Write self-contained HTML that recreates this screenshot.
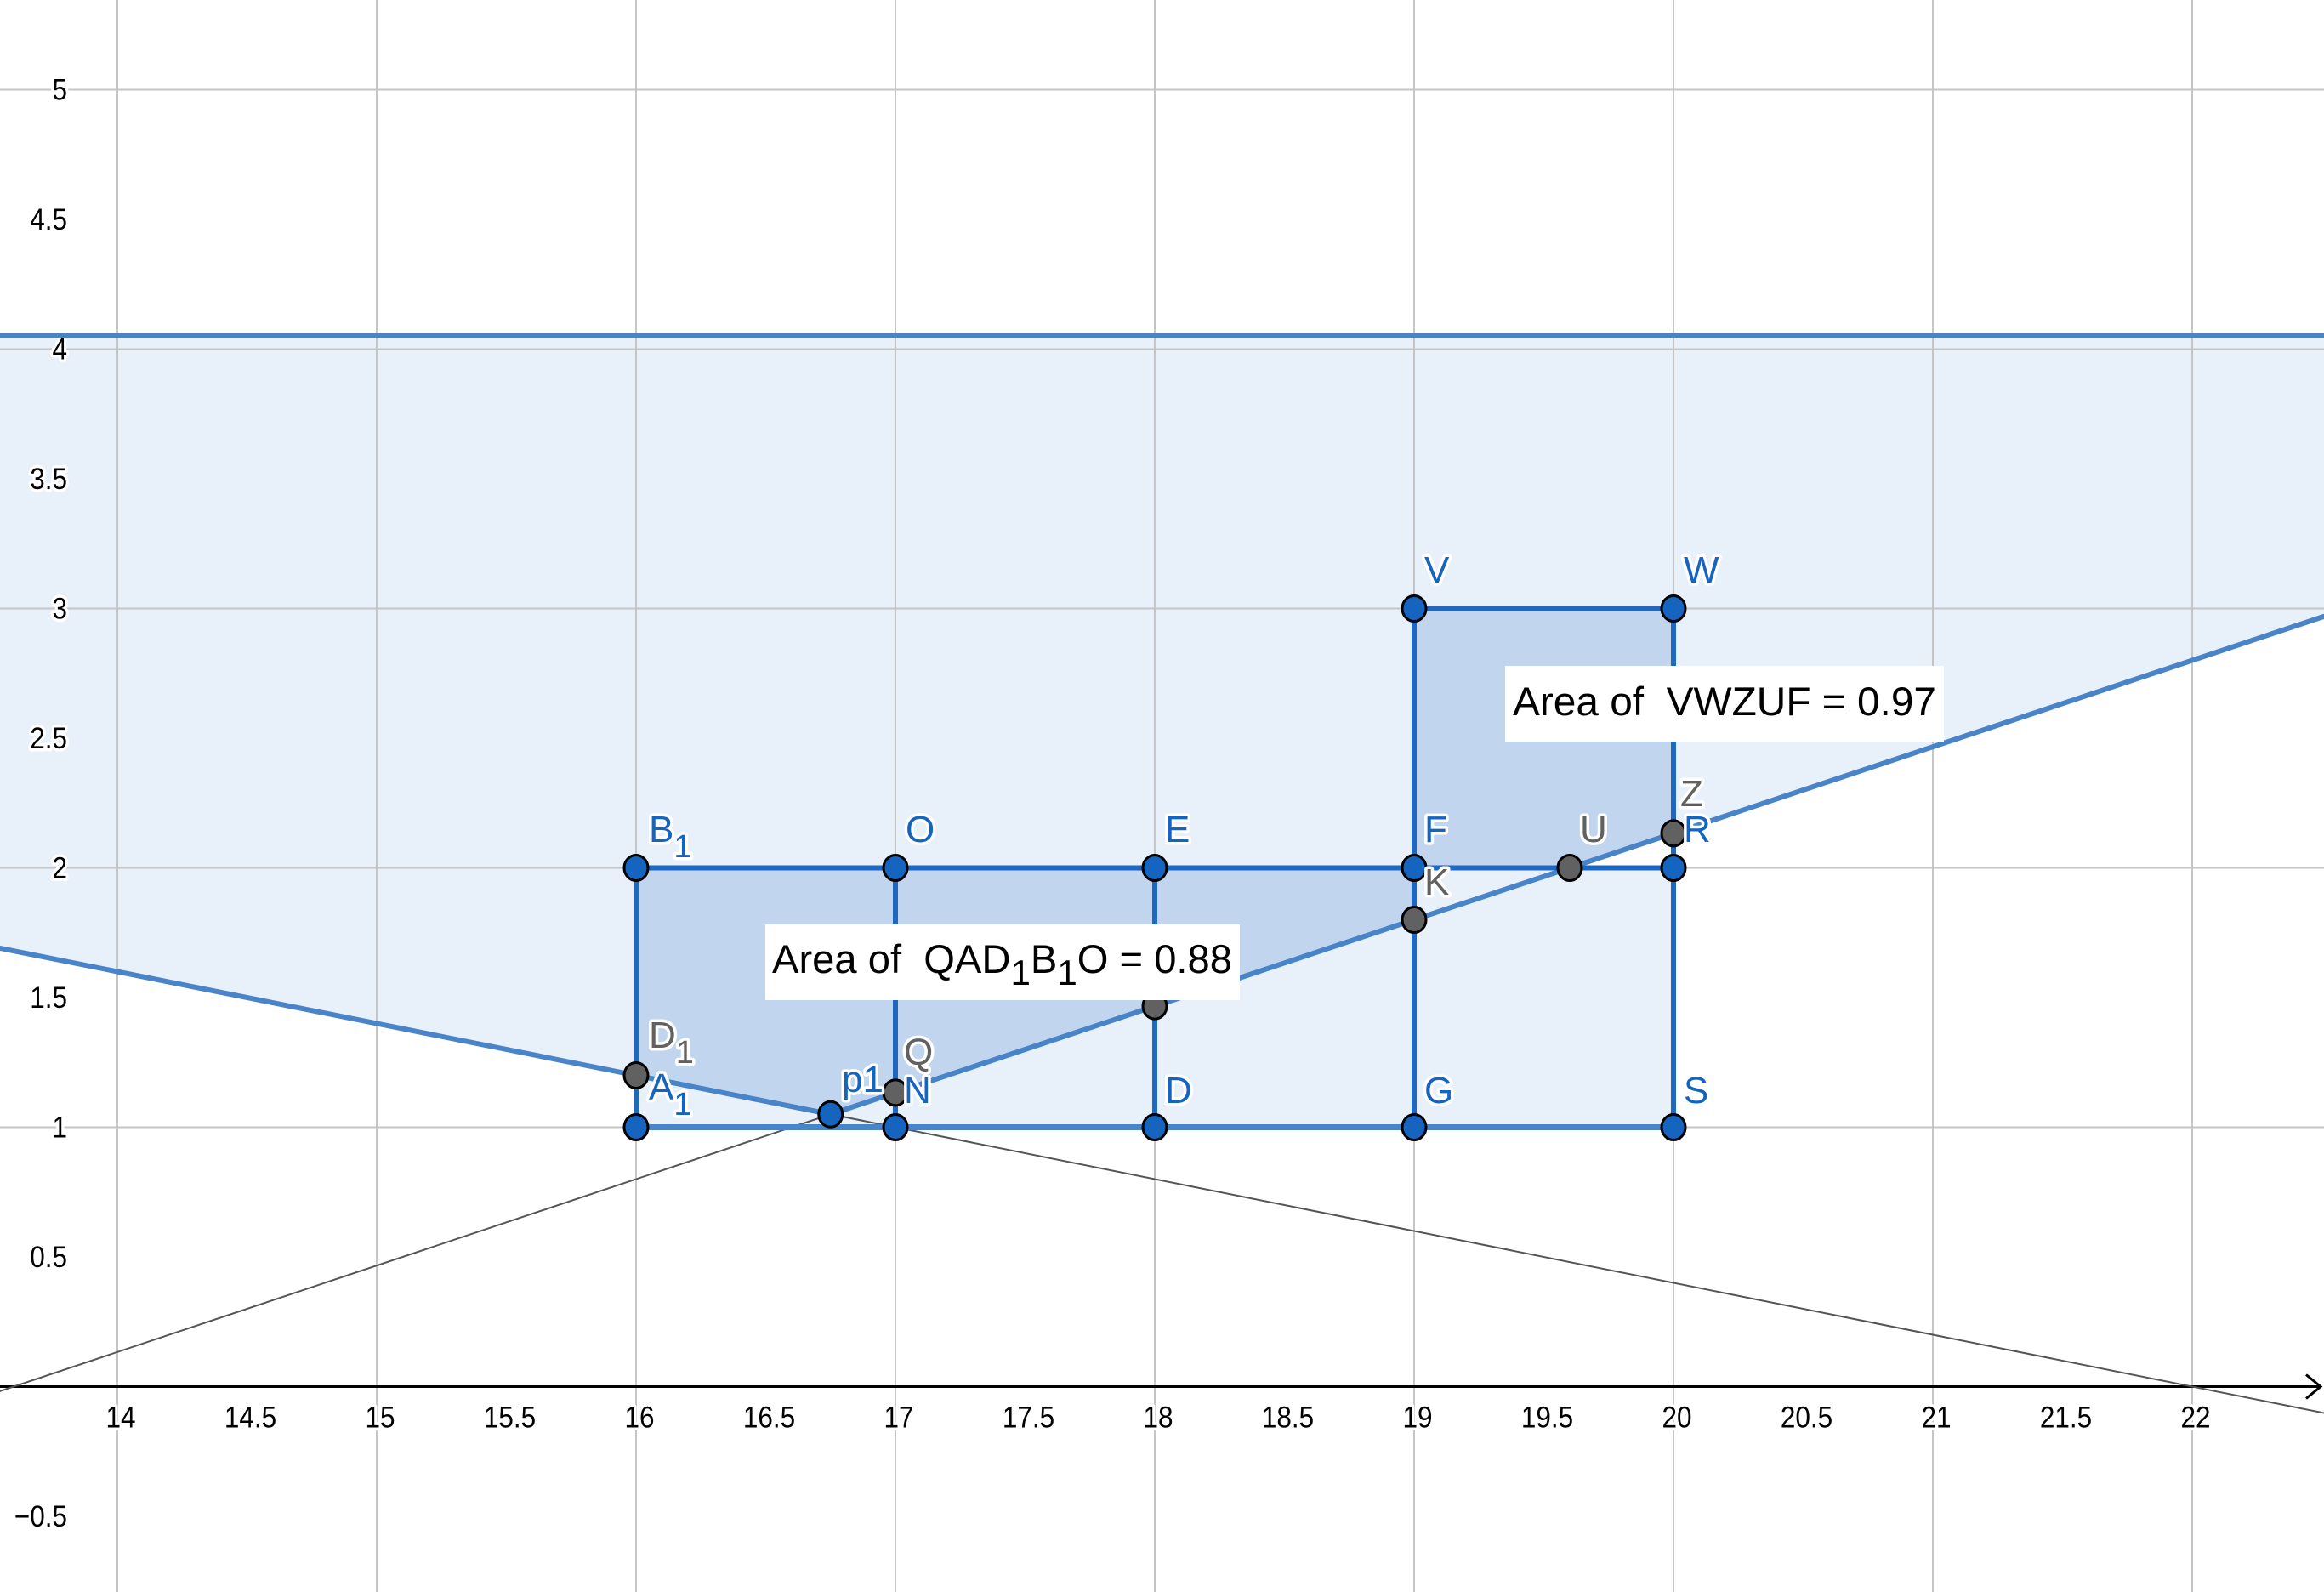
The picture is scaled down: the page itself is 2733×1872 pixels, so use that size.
<!DOCTYPE html>
<html><head><meta charset="utf-8">
<style>
html,body{margin:0;padding:0;background:#fff;}
svg{display:block;font-family:"Liberation Sans",sans-serif;}
.halo{paint-order:stroke;stroke:#fff;stroke-width:7px;stroke-linejoin:round;}
</style></head>
<body>
<svg id="chart" width="2733" height="1872" viewBox="0 0 2733 1872" xmlns="http://www.w3.org/2000/svg">
<g id="fills"></g>
<g id="grid"></g>
<g id="axes"></g>
<g id="lines"></g>
<g id="segs"></g>
<g id="pts"></g>
<g id="labels"></g>
<g id="boxes"></g>
</svg>
<script>
const xTicks = [14,14.5,15,15.5,16,16.5,17,17.5,18,18.5,19,19.5,20,20.5,21,21.5,22];
const yTicks = [-0.5,0.5,1,1.5,2,2.5,3,3.5,4,4.5,5];
const gridX = [14,15,16,17,18,19,20,21,22];
const gridY = [1,2,3,4,5];
const ceilingY = 4.054;
const line1 = [[16,1.2],[22,0]];        // descending line
const line2 = [[13.6,0],[19.6,2]];      // ascending line
const p1 = [16.75,1.05];
const bluePts = [["A","1",16,1],["B","1",16,2],["O","",17,2],["E","",18,2],["F","",19,2],["V","",19,3],["W","",20,3],["R","",20,2],["S","",20,1],["G","",19,1],["D","",18,1],["N","",17,1],["p1","",16.75,1.05]];
const grayPts = [["D","1",16,1.2],["Q","",17,1.1333],["K","",19,1.8],["U","",19.6,2],["Z","",20,2.1333],["","",18,1.4667]];
const xMin = 13.545, xMax = 22.51;

const X0 = 748, Y0 = 1630.5, U = 305;
const sx = x => X0 + (x-16)*U;
const sy = y => Y0 - y*U;
const NS = "http://www.w3.org/2000/svg";
function mk(tag, attrs, parent){const e=document.createElementNS(NS,tag);for(const k in attrs)e.setAttribute(k,attrs[k]);parent.appendChild(e);return e;}
const lineY = (L,x)=>L[0][1]+(L[1][1]-L[0][1])*(x-L[0][0])/(L[1][0]-L[0][0]);
const lowerY = x => Math.max(lineY(line1,x), lineY(line2,x));

// fills
const fills = document.getElementById('fills');
let pts = [[xMin,ceilingY],[xMax,ceilingY],[xMax,lowerY(xMax)],[p1[0],p1[1]],[xMin,lowerY(xMin)]];
let r = mk('polygon',{points:pts.map(p=>sx(p[0])+','+sy(p[1])).join(' '),fill:'#e8f0f9'},fills);


r = mk('rect',{x:sx(16),y:sy(2),width:sx(20)-sx(16),height:sy(1)-sy(2),fill:'#e8f0f9'},fills);


let dark1 = [[16,lineY(line1,16)],[16,2],[19,2],[19,lineY(line2,19)],[p1[0],p1[1]]];
r = mk('polygon',{points:dark1.map(p=>sx(p[0])+','+sy(p[1])).join(' '),fill:'#c1d6ee'},fills);


let dark2 = [[19,3],[20,3],[20,lineY(line2,20)],[19.6,2],[19,2]];
r = mk('polygon',{points:dark2.map(p=>sx(p[0])+','+sy(p[1])).join(' '),fill:'#c1d6ee'},fills);



// grid
const grid = document.getElementById('grid');
gridX.forEach(v=>{const l=mk('line',{x1:sx(v),x2:sx(v),y1:0,y2:1872,stroke:'#c0c0c0','stroke-width':2,'stroke-opacity':0.9},grid);

});
gridY.forEach(v=>{const l=mk('line',{x1:0,x2:2733,y1:sy(v),y2:sy(v),stroke:'#c0c0c0','stroke-width':2,'stroke-opacity':0.9},grid);

});

// axes
const axes = document.getElementById('axes');
let ax = mk('line',{x1:0,x2:2728,y1:Y0,y2:Y0,stroke:'#000','stroke-width':3},axes);


ax = mk('polyline',{points:`2712,${Y0-14} 2729,${Y0} 2712,${Y0+14}`,fill:'none',stroke:'#000','stroke-width':3},axes);


xTicks.forEach(v=>{const t=mk('text',{x:sx(v)+4,y:Y0+48,'font-size':35,'text-anchor':'middle',fill:'#000',class:'halo',transform:`translate(${sx(v)+4},0) scale(0.9,1) translate(${-(sx(v)+4)},0)`},axes);t.textContent=String(v);

});
yTicks.forEach(v=>{const t=mk('text',{x:79,y:sy(v)+12,'font-size':35,'text-anchor':'end',fill:'#000',class:'halo',transform:'translate(79,0) scale(0.9,1) translate(-79,0)'},axes);t.textContent=(v<0?'\u2212'+(-v):String(v));

});

// lines
const lines = document.getElementById('lines');
function seg(a,b,st,w,name,parent){const l=mk('line',{x1:sx(a[0]),y1:sy(a[1]),x2:sx(b[0]),y2:sy(b[1]),stroke:st,'stroke-width':w,'stroke-linecap':'round'},parent);return l;}
seg([xMin,ceilingY],[xMax,ceilingY],'#4a84c8',6,'ceiling-line',lines);
seg([p1[0],p1[1]],[xMax,lineY(line1,xMax)],'#555',2,'line1-thin',lines);
seg([xMin,lineY(line2,xMin)],[p1[0],p1[1]],'#555',2,'line2-thin',lines);
seg([xMin,lineY(line1,xMin)],p1,'#4a84c8',6,'line1-boundary',lines);
seg(p1,[xMax,lineY(line2,xMax)],'#4a84c8',6,'line2-boundary',lines);

// segments
const segs = document.getElementById('segs');
const B='#1f68c2';
seg([16,1],[20,1],'#4a84c8',7,'segment-a1-s',segs);
seg([16,1],[16,2],B,6,'segment-a1-b1',segs);
seg([16,2],[20,2],B,6,'segment-b1-r',segs);
seg([17,1],[17,2],B,6,'segment-n-o',segs);
seg([18,1],[18,2],B,6,'segment-d-e',segs);
seg([19,1],[19,3],B,6,'segment-g-v',segs);
seg([20,1],[20,3],B,6,'segment-s-w',segs);
seg([19,3],[20,3],B,6,'segment-v-w',segs);

// points
const ptsG = document.getElementById('pts');
grayPts.forEach(p=>{const c=mk('ellipse',{cx:sx(p[2]),cy:sy(p[3]),rx:14,ry:15,fill:'#616161',stroke:'#000','stroke-width':3},ptsG);

});
bluePts.forEach(p=>{const c=mk('ellipse',{cx:sx(p[2]),cy:sy(p[3]),rx:14,ry:15,fill:'#1565c0',stroke:'#000','stroke-width':3},ptsG);

});

// labels
const labG = document.getElementById('labels');
const labs = [["B","1",763,990,'#1565c0'],["O","",1065,990,'#1565c0'],["E","",1370,990,'#1565c0'],["F","",1675,990,'#1565c0'],
["V","",1675,685,'#1565c0'],["W","",1980,685,'#1565c0'],["U","",1858,990,'#616161'],["R","",1980,990,'#1565c0'],["Z","",1976,948,'#616161'],
["K","",1675,1052,'#616161'],["D","1",763,1232,'#616161'],["A","1",763,1293,'#1565c0'],["p1","",990,1284,'#1565c0'],["Q","",1063,1252,'#616161'],
["N","",1063,1297,'#1565c0'],["D","",1370,1297,'#1565c0'],["G","",1675,1297,'#1565c0'],["S","",1980,1297,'#1565c0']];
labs.forEach(l=>{const t=mk('text',{x:l[2],y:l[3],'font-size':44,fill:l[4],class:'halo'},labG);
t.textContent=l[0];
if(l[1]){const s=mk('tspan',{dy:18,'font-size':38},t);s.textContent=l[1];}

});

// text boxes
const boxes = document.getElementById('boxes');
let g = mk('g',{},boxes);


mk('rect',{x:900,y:1087,width:558,height:89,fill:'#fff'},g);
let t = mk('text',{x:908,y:1144,'font-size':47,fill:'#000',textLength:541,lengthAdjust:'spacingAndGlyphs'},g);
t.innerHTML='Area of\u00a0 QAD<tspan dy="14" font-size="42">1</tspan><tspan dy="-14">B</tspan><tspan dy="14" font-size="42">1</tspan><tspan dy="-14">O = 0.88</tspan>';
g = mk('g',{},boxes);


mk('rect',{x:1770,y:783,width:516,height:89,fill:'#fff'},g);
t = mk('text',{x:1779,y:841,'font-size':47,fill:'#000',textLength:498,lengthAdjust:'spacingAndGlyphs'},g);
t.textContent='Area of\u00a0 VWZUF = 0.97';
</script>
</body></html>
